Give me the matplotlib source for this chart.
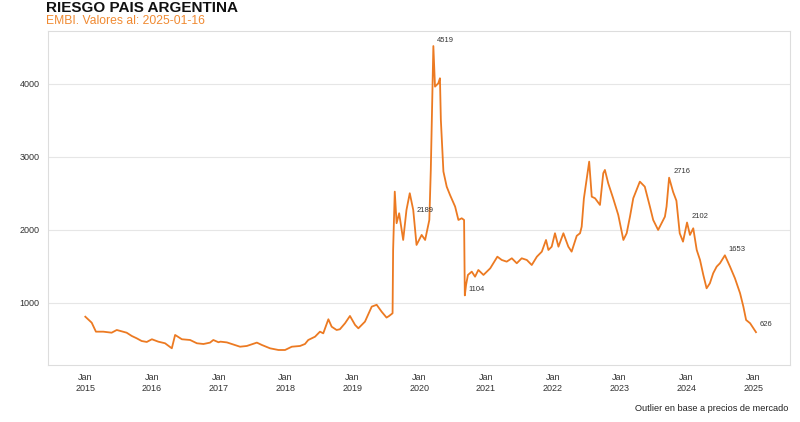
import matplotlib
matplotlib.use("Agg")
import matplotlib.pyplot as plt
import matplotlib.dates as mdates
import pandas as pd

# EMBI Argentina
dates = [
    "2015-01-02", "2015-01-25", "2015-02-06", "2015-03-01", "2015-04-10", "2015-05-26",
    "2015-06-23", "2015-08-16", "2015-09-13", "2015-10-10", "2015-11-06", "2015-12-04",
    "2016-01-01", "2016-02-05", "2016-03-13", "2016-04-19", "2016-05-07", "2016-06-13",
    "2016-07-28", "2016-09-03", "2016-10-09", "2016-11-14", "2016-12-02", "2016-12-30",
    "2017-01-10", "2017-02-14", "2017-04-27", "2017-06-03", "2017-07-28", "2017-08-24",
    "2017-10-08", "2017-11-23", "2017-12-29", "2018-02-04", "2018-03-21", "2018-04-17",
    "2018-05-05", "2018-06-11", "2018-07-08", "2018-07-26", "2018-08-23", "2018-09-10",
    "2018-10-07", "2018-10-25", "2018-11-22", "2018-12-19", "2019-01-16", "2019-02-03",
    "2019-03-11", "2019-04-17", "2019-05-14", "2019-06-10", "2019-07-07", "2019-07-20",
    "2019-08-09", "2019-08-12", "2019-08-21", "2019-08-31", "2019-09-14", "2019-10-06",
    "2019-10-24", "2019-11-11", "2019-11-30", "2019-12-18", "2020-01-15", "2020-02-03",
    "2020-02-26", "2020-03-05", "2020-03-19", "2020-03-28", "2020-04-15", "2020-04-24",
    "2020-04-29", "2020-05-13", "2020-05-31", "2020-06-18", "2020-07-16", "2020-08-03",
    "2020-08-21", "2020-09-03", "2020-09-07", "2020-09-14", "2020-09-24", "2020-10-15",
    "2020-11-02", "2020-11-20", "2020-12-18", "2021-01-24", "2021-03-04", "2021-03-28",
    "2021-04-24", "2021-05-22", "2021-06-18", "2021-07-15", "2021-08-12", "2021-09-08",
    "2021-10-06", "2021-11-02", "2021-11-25", "2021-12-08", "2021-12-26", "2022-01-13",
    "2022-02-01", "2022-02-28", "2022-03-27", "2022-04-14", "2022-05-12", "2022-05-30",
    "2022-06-08", "2022-06-20", "2022-07-19", "2022-08-02", "2022-08-20", "2022-09-16",
    "2022-10-04", "2022-10-13", "2022-10-31", "2022-11-27", "2022-12-25", "2023-01-22",
    "2023-02-09", "2023-02-27", "2023-03-17", "2023-04-04", "2023-04-22", "2023-05-19",
    "2023-06-16", "2023-07-04", "2023-07-31", "2023-08-19", "2023-09-06", "2023-09-15",
    "2023-09-29", "2023-10-21", "2023-11-08", "2023-11-26", "2023-12-14", "2024-01-05",
    "2024-01-21", "2024-02-08", "2024-02-27", "2024-03-16", "2024-04-03", "2024-04-21",
    "2024-05-09", "2024-05-27", "2024-06-15", "2024-07-03", "2024-07-30", "2024-08-27",
    "2024-09-23", "2024-10-21", "2024-11-08", "2024-11-23", "2024-12-15", "2025-01-16",
]
embi = [
    812, 758, 730, 607, 607, 593,
    630, 593, 548, 516, 479, 466,
    503, 470, 448, 379, 562, 503,
    493, 448, 438, 457, 493, 462,
    470, 460, 401, 411, 457, 425,
    379, 356, 356, 401, 411, 438,
    493, 538, 607, 584, 777, 675,
    630, 640, 722, 822, 699, 653,
    744, 950, 975, 881, 800, 820,
    859, 1726, 2525, 2092, 2229, 1863,
    2274, 2503, 2274, 1795, 1932, 1863,
    2137, 2822, 4519, 3963, 4009, 4078,
    3507, 2800, 2593, 2480, 2320, 2137,
    2160, 2137, 1104, 1250, 1384, 1429,
    1360, 1452, 1384, 1475, 1634, 1589,
    1566, 1612, 1544, 1612, 1589, 1520,
    1634, 1703, 1863, 1726, 1771, 1955,
    1771, 1955, 1771, 1703, 1920, 1955,
    2045, 2430, 2936, 2456, 2434, 2343,
    2777, 2822, 2640, 2434, 2206, 1863,
    1955, 2182, 2434, 2548, 2662, 2593,
    2320, 2137, 2000, 2092, 2182, 2320,
    2716, 2520, 2400, 1955, 1840, 2102,
    1932, 2023, 1726, 1589, 1384, 1201,
    1270, 1407, 1498, 1544, 1653, 1498,
    1338, 1133, 950, 767, 722, 600,
]

# labelled points
ann_dates = ["2020-03-19", "2019-11-28", "2020-09-07", "2023-09-29",
             "2024-01-08", "2024-07-30", "2025-01-16"]
ann_values = [4519, 2189, 1104, 2716, 2102, 1653, 626]
ann_text = ["4519", "2189", "1104", "2716", "2102", "1653", "626"]

ORANGE = "#ec7a22"

plt.rcParams["font.family"] = ["Liberation Sans", "DejaVu Sans"]

fig = plt.figure(figsize=(8, 4.22), dpi=100)
ax = fig.add_axes([0.06, 0.135, 0.9275, 0.7915])

x = pd.to_datetime(dates)
ax.plot(x, embi, color=ORANGE, linewidth=1.3, solid_joinstyle="round")

for d, v, t in zip(ann_dates, ann_values, ann_text):
    ax.annotate(t, (pd.Timestamp(d), v), xytext=(4, 6), textcoords="offset pixels",
                fontsize=5.5, color="#333333", ha="left", va="center")

ax.set_xlim(pd.Timestamp("2014-06-12"), pd.Timestamp("2025-07-21"))
ax.set_ylim(150, 4725)
ax.set_yticks([1000, 2000, 3000, 4000])
ax.xaxis.set_major_locator(mdates.YearLocator())
ax.xaxis.set_major_formatter(mdates.DateFormatter("%b\n%Y"))
ax.tick_params(axis="both", length=0, labelsize=6.5, colors="#333333", pad=6)
ax.grid(axis="y", color="#e6e6e6", linewidth=0.8)
ax.set_axisbelow(True)
for s in ax.spines.values():
    s.set_color("#dddddd")
    s.set_linewidth(0.8)

fig.text(0.057, 0.982, "RIESGO PAIS ARGENTINA", fontsize=11, fontweight="bold",
         color="#111111", ha="left", va="center")
fig.text(0.057, 0.950, "EMBI. Valores al: 2025-01-16", fontsize=8.7, color="#f08a32",
         ha="left", va="center")
fig.text(0.985, 0.033, "Outlier en base a precios de mercado", fontsize=6.6,
         color="#222222", ha="right", va="center")

fig.savefig("out.png", dpi=100)
